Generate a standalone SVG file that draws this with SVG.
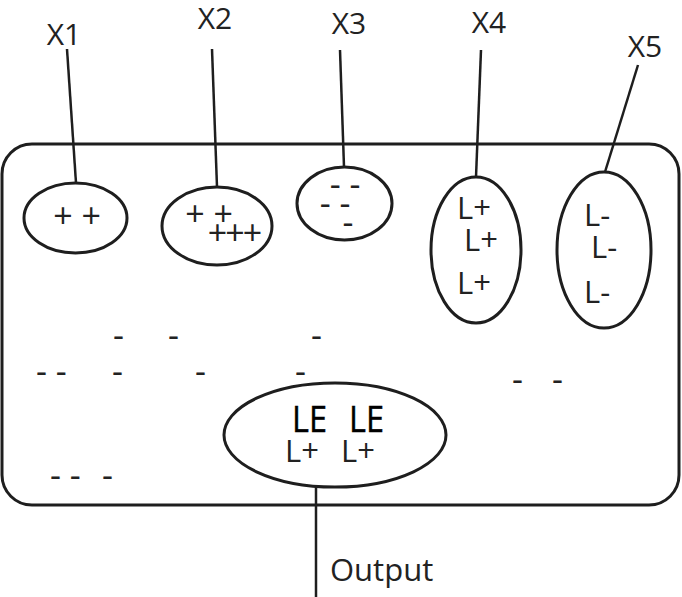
<svg xmlns="http://www.w3.org/2000/svg" width="682" height="597" viewBox="0 0 682 597">
<style>
.shape{fill:none;stroke:#1e1e1e;stroke-width:3}
.conn{fill:none;stroke:#1e1e1e;stroke-width:2.5}
.t{font-family:"Open Sans","Noto Sans","Liberation Sans",sans-serif;fill:#222;font-size:31px}
.d{font-family:"Open Sans","Noto Sans","Liberation Sans",sans-serif;fill:#222;font-size:34px}
.lbl{font-family:"Open Sans","Noto Sans","Liberation Sans",sans-serif;fill:#222;font-size:30px;text-anchor:middle}
.p{font-family:"Open Sans","Noto Sans","Liberation Sans",sans-serif;fill:#222;font-size:34px;text-anchor:middle}
.le{font-family:"Open Sans","Noto Sans","Liberation Sans",sans-serif;fill:#000;font-size:37px;stroke:#000;stroke-width:0.4}
</style>
<rect width="682" height="597" fill="#fff"/>
<g id="container">
<rect class="shape" x="2" y="144" width="677" height="361" rx="30" ry="30"/>
<text class="d" x="36" y="383">- -</text>
<text class="d" x="113" y="347">-</text>
<text class="d" x="168" y="347">-</text>
<text class="d" x="311" y="347">-</text>
<text class="d" x="112" y="383">-</text>
<text class="d" x="195" y="383">-</text>
<text class="d" x="295" y="383">-</text>
<text class="d" x="512" y="391">-</text>
<text class="d" x="552" y="391">-</text>
<text class="d" x="50" y="487">- -</text>
<text class="d" x="102" y="487">-</text>
</g>
<g id="connectors">
<polyline class="conn" points="67,49 76,183"/>
<polyline class="conn" points="212,49 217,187"/>
<polyline class="conn" points="340,50 344,167"/>
<polyline class="conn" points="481,50 476,177"/>
<polyline class="conn" points="638,65 605,172"/>
<polyline class="conn" points="316,486 316,597"/>
</g>
<g id="x1">
<text class="lbl" x="64" y="45">X1</text>
<ellipse class="shape" cx="75.5" cy="218" rx="51.5" ry="35"/>
<text class="p" x="77" y="228">+ +</text>
</g>
<g id="x2">
<text class="lbl" x="215" y="29">X2</text>
<ellipse class="shape" cx="217" cy="226" rx="55" ry="39"/>
<text class="p" x="209" y="226">+ +</text>
<text class="p" x="234" y="245" letter-spacing="-2">+++</text>
</g>
<g id="x3">
<text class="lbl" x="349" y="34">X3</text>
<ellipse class="shape" cx="344.5" cy="203.5" rx="47.5" ry="36.5"/>
<text class="p" x="345" y="196">- -</text>
<text class="p" x="335" y="215">- -</text>
<text class="p" x="348" y="234">-</text>
</g>
<g id="x4">
<text class="lbl" x="489" y="33">X4</text>
<ellipse class="shape" cx="476" cy="250" rx="45" ry="73"/>
<text class="t" x="457" y="219">L+</text>
<text class="t" x="464" y="251">L+</text>
<text class="t" x="457" y="294">L+</text>
</g>
<g id="x5">
<text class="lbl" x="645" y="57">X5</text>
<ellipse class="shape" cx="604" cy="250" rx="47" ry="78"/>
<text class="t" x="584" y="226">L-</text>
<text class="t" x="591" y="258">L-</text>
<text class="t" x="584" y="303">L-</text>
</g>
<g id="output">
<ellipse class="shape" cx="335" cy="435" rx="111" ry="52"/>
<text class="le" x="292" y="432" textLength="35" lengthAdjust="spacingAndGlyphs">LE</text>
<text class="le" x="349" y="432" textLength="35" lengthAdjust="spacingAndGlyphs">LE</text>
<text class="t" x="285" y="462">L+</text>
<text class="t" x="341" y="462">L+</text>
<text class="t" x="330" y="581" font-size="32">Output</text>
</g>
</svg>
